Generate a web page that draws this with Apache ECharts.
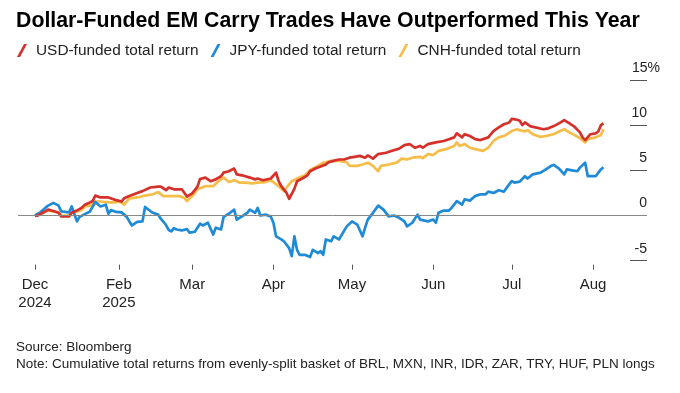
<!DOCTYPE html>
<html><head><meta charset="utf-8">
<script src="https://cdn.jsdelivr.net/npm/echarts@6/dist/echarts.min.js"></script>
<style>html,body{margin:0;padding:0;background:#fff}#c{width:680px;height:393px}</style>
</head><body><div id="c"></div>
<script>
const titleText = 'Dollar-Funded EM Carry Trades Have Outperformed This Year';
const sourceText = 'Source: Bloomberg';
const noteText = 'Note: Cumulative total returns from evenly-split basket of BRL, MXN, INR, IDR, ZAR, TRY, HUF, PLN longs';
const seriesNames = ['USD-funded total return', 'JPY-funded total return', 'CNH-funded total return'];

const xTickDates = ['2024-12-31','2025-02-01','2025-03-01','2025-04-01','2025-05-01','2025-06-01','2025-07-01','2025-08-01'];
const xTickLabels = ['Dec\n2024','Feb\n2025','Mar','Apr','May','Jun','Jul','Aug'];
const yTicks = [-5, 0, 5, 10, 15];

const usdDates = ['2024-12-31','2025-01-01','2025-01-03','2025-01-05','2025-01-07','2025-01-09','2025-01-10','2025-01-13','2025-01-14','2025-01-16','2025-01-18','2025-01-19','2025-01-21','2025-01-22','2025-01-23','2025-01-25','2025-01-28','2025-01-31','2025-02-02','2025-02-03','2025-02-05','2025-02-08','2025-02-10','2025-02-13','2025-02-16','2025-02-17','2025-02-19','2025-02-20','2025-02-22','2025-02-25','2025-02-27','2025-03-01','2025-03-03','2025-03-04','2025-03-06','2025-03-08','2025-03-10','2025-03-12','2025-03-13','2025-03-15','2025-03-17','2025-03-18','2025-03-20','2025-03-23','2025-03-25','2025-03-26','2025-03-28','2025-03-31','2025-04-02','2025-04-03','2025-04-04','2025-04-06','2025-04-07','2025-04-09','2025-04-10','2025-04-12','2025-04-14','2025-04-15','2025-04-17','2025-04-20','2025-04-21','2025-04-22','2025-04-24','2025-04-26','2025-04-28','2025-04-30','2025-05-02','2025-05-04','2025-05-06','2025-05-07','2025-05-09','2025-05-11','2025-05-14','2025-05-16','2025-05-19','2025-05-21','2025-05-23','2025-05-25','2025-05-27','2025-05-28','2025-05-30','2025-06-02','2025-06-05','2025-06-07','2025-06-09','2025-06-10','2025-06-12','2025-06-13','2025-06-15','2025-06-17','2025-06-19','2025-06-22','2025-06-24','2025-06-26','2025-06-28','2025-06-30','2025-07-01','2025-07-03','2025-07-04','2025-07-05','2025-07-06','2025-07-08','2025-07-10','2025-07-13','2025-07-15','2025-07-17','2025-07-19','2025-07-21','2025-07-23','2025-07-25','2025-07-27','2025-07-28','2025-07-29','2025-07-31','2025-08-02','2025-08-03','2025-08-04','2025-08-05'];
const usdValues = [0.0,0.0,0.3,0.65,0.5,0.3,-0.1,-0.1,0.3,0.55,0.9,1.2,1.45,1.6,2.2,2.0,2.0,1.7,1.55,1.9,2.15,2.5,2.7,3.1,3.2,3.2,2.8,3.1,2.9,2.9,2.1,2.45,3.2,4.05,4.2,3.8,4.0,4.35,4.75,4.9,5.2,4.55,4.45,4.2,4.0,4.1,3.9,4.1,4.75,3.8,3.25,2.5,1.85,2.95,3.8,4.1,4.45,4.9,5.2,5.55,5.65,5.9,6.05,6.2,6.2,6.4,6.5,6.6,6.4,6.65,6.3,6.8,6.95,7.15,7.4,7.8,7.9,7.5,7.7,7.5,7.9,8.1,8.25,8.45,8.65,9.1,8.65,9.0,8.8,8.45,8.35,8.65,9.35,9.75,10.1,10.3,10.7,10.6,10.5,10.0,10.3,9.9,9.75,9.55,9.65,9.9,10.2,10.55,10.2,9.8,9.2,8.65,8.35,9.0,9.1,9.3,10.0,10.2];

const jpyDates = ['2024-12-31','2025-01-02','2025-01-05','2025-01-07','2025-01-09','2025-01-10','2025-01-13','2025-01-14','2025-01-16','2025-01-17','2025-01-19','2025-01-21','2025-01-23','2025-01-25','2025-01-27','2025-01-28','2025-01-29','2025-01-31','2025-02-02','2025-02-04','2025-02-05','2025-02-06','2025-02-08','2025-02-10','2025-02-11','2025-02-13','2025-02-14','2025-02-16','2025-02-17','2025-02-19','2025-02-20','2025-02-21','2025-02-22','2025-02-23','2025-02-25','2025-02-27','2025-02-28','2025-03-02','2025-03-04','2025-03-05','2025-03-07','2025-03-09','2025-03-10','2025-03-12','2025-03-13','2025-03-15','2025-03-17','2025-03-18','2025-03-20','2025-03-22','2025-03-23','2025-03-25','2025-03-26','2025-03-27','2025-03-29','2025-03-31','2025-04-01','2025-04-02','2025-04-04','2025-04-05','2025-04-07','2025-04-08','2025-04-09','2025-04-10','2025-04-11','2025-04-13','2025-04-15','2025-04-16','2025-04-18','2025-04-19','2025-04-20','2025-04-21','2025-04-23','2025-04-24','2025-04-26','2025-04-29','2025-05-01','2025-05-03','2025-05-05','2025-05-06','2025-05-07','2025-05-09','2025-05-11','2025-05-13','2025-05-15','2025-05-17','2025-05-19','2025-05-21','2025-05-22','2025-05-24','2025-05-26','2025-05-27','2025-05-30','2025-06-01','2025-06-02','2025-06-03','2025-06-05','2025-06-07','2025-06-08','2025-06-10','2025-06-12','2025-06-13','2025-06-15','2025-06-17','2025-06-19','2025-06-21','2025-06-22','2025-06-24','2025-06-26','2025-06-28','2025-06-30','2025-07-01','2025-07-02','2025-07-04','2025-07-06','2025-07-07','2025-07-09','2025-07-12','2025-07-14','2025-07-16','2025-07-17','2025-07-19','2025-07-21','2025-07-22','2025-07-24','2025-07-26','2025-07-27','2025-07-29','2025-07-30','2025-08-02','2025-08-04','2025-08-05'];
const jpyValues = [0.0,0.35,1.1,1.4,1.1,0.45,0.35,1.0,-0.65,-0.15,0.15,0.45,1.5,1.0,1.2,0.2,0.6,0.4,0.35,-0.15,-0.65,-1.1,-0.7,-0.65,0.95,0.5,0.3,0.1,-0.35,-1.05,-1.6,-1.75,-1.4,-1.55,-1.65,-1.5,-1.9,-1.8,-0.9,-1.1,-0.8,-2.1,-1.35,-1.55,-0.15,0.2,0.65,-0.45,-0.1,0.3,0.65,0.3,0.85,0.0,0.1,-0.1,-0.8,-2.3,-2.65,-2.85,-3.6,-4.5,-2.3,-3.8,-4.35,-4.35,-4.6,-3.8,-4.15,-3.95,-4.35,-2.65,-2.85,-2.3,-2.65,-1.2,-0.65,-1.0,-2.3,-1.35,-0.45,0.3,1.1,0.65,-0.1,0.0,-0.25,-0.65,-1.2,-0.8,0.1,-0.45,-0.65,-0.45,-0.8,0.3,0.55,0.55,0.85,1.6,1.2,1.8,1.65,2.15,2.35,2.35,2.65,2.5,2.8,2.65,3.45,3.8,3.65,3.75,4.35,4.1,4.55,4.75,5.1,5.5,5.6,5.2,4.55,5.1,5.0,4.9,5.3,5.85,4.35,4.35,5.1,5.35];

const cnhDates = ['2024-12-31','2025-01-01','2025-01-03','2025-01-05','2025-01-07','2025-01-09','2025-01-10','2025-01-13','2025-01-14','2025-01-16','2025-01-18','2025-01-19','2025-01-21','2025-01-23','2025-01-25','2025-01-28','2025-01-31','2025-02-01','2025-02-03','2025-02-05','2025-02-08','2025-02-11','2025-02-14','2025-02-16','2025-02-18','2025-02-21','2025-02-24','2025-02-26','2025-02-27','2025-03-01','2025-03-03','2025-03-06','2025-03-09','2025-03-11','2025-03-13','2025-03-15','2025-03-17','2025-03-19','2025-03-21','2025-03-24','2025-03-26','2025-03-29','2025-03-31','2025-04-03','2025-04-05','2025-04-06','2025-04-08','2025-04-10','2025-04-13','2025-04-15','2025-04-18','2025-04-20','2025-04-21','2025-04-23','2025-04-26','2025-04-29','2025-04-30','2025-05-03','2025-05-05','2025-05-07','2025-05-09','2025-05-11','2025-05-12','2025-05-15','2025-05-18','2025-05-20','2025-05-22','2025-05-24','2025-05-27','2025-05-28','2025-05-30','2025-06-01','2025-06-03','2025-06-06','2025-06-09','2025-06-10','2025-06-11','2025-06-13','2025-06-15','2025-06-17','2025-06-20','2025-06-22','2025-06-24','2025-06-26','2025-06-28','2025-07-01','2025-07-03','2025-07-04','2025-07-06','2025-07-07','2025-07-09','2025-07-12','2025-07-14','2025-07-17','2025-07-19','2025-07-21','2025-07-23','2025-07-25','2025-07-27','2025-07-29','2025-07-30','2025-08-02','2025-08-04','2025-08-05'];
const cnhValues = [0.0,0.05,0.3,0.55,0.45,0.3,0.0,0.0,0.3,0.45,0.65,1.0,1.1,1.55,1.55,1.45,1.45,1.6,1.2,1.9,2.0,2.2,2.35,2.6,2.15,2.15,2.15,1.95,1.6,2.15,2.9,3.25,3.25,3.8,4.2,3.7,3.9,3.65,3.65,3.55,3.65,3.7,3.9,3.25,2.7,3.1,3.8,4.1,4.45,5.05,5.5,5.85,5.9,6.05,6.05,5.9,5.5,5.5,5.65,5.85,5.5,4.9,5.5,5.65,5.85,6.3,6.2,6.4,6.5,6.35,6.8,6.7,7.15,7.35,7.7,8.1,7.7,7.9,7.5,7.35,7.15,7.5,8.25,8.65,8.8,9.35,9.55,9.45,9.3,9.45,9.0,8.7,8.8,9.0,9.3,9.55,9.2,8.9,8.55,8.1,8.45,8.65,8.9,9.55];

const colors = {usd: '#d6302a', jpy: '#1f8ad6', cnh: '#f6bd48'};
const FONT = "'Liberation Sans', Arial, Helvetica, sans-serif";
// x is measured in days since the first date
function dayNum(s) { const p = s.split('-').map(Number); return Math.round(Date.UTC(p[0], p[1] - 1, p[2]) / 864e5); }
const originDay = dayNum(xTickDates[0]);
function dx(s) { return dayNum(s) - originDay; }
function pairs(d, v) { return d.map((x, i) => [dx(x), v[i]]); }
const tickX = xTickDates.map(dx);
const labelMap = {}; tickX.forEach((t, i) => { labelMap[t] = xTickLabels[i]; });
const slash = 'path://M7,0 L10,0 L3,13 L0,13 Z';

const chart = echarts.init(document.getElementById('c'), null, {renderer: 'canvas'});
chart.setOption({
  animation: false,
  backgroundColor: '#fff',
  textStyle: {fontFamily: FONT},
  title: [
    {text: titleText, left: 11, top: 6, textStyle: {fontFamily: FONT, fontSize: 21.3, fontWeight: 'bold', color: '#000'}},
    {text: sourceText + '\n' + noteText, left: 11, top: 334, textStyle: {fontFamily: FONT, fontSize: 13.5, fontWeight: 'normal', color: '#222', lineHeight: 17}}
  ],
  legend: {
    left: 12, top: 38, itemWidth: 10, itemHeight: 13, itemGap: 12,
    data: [
      {name: seriesNames[0], icon: slash},
      {name: seriesNames[1], icon: slash},
      {name: seriesNames[2], icon: slash}
    ],
    textStyle: {fontFamily: FONT, fontSize: 15.4, color: '#222', padding: [0, 0, 0, 4]}
  },
  grid: {left: 18, right: 33, top: 80, bottom: 132.3, containLabel: false},
  xAxis: {
    type: 'value',
    min: -6.5,
    max: 233.6,
    offset: 4,
    splitLine: {show: false},
    axisLine: {show: false, onZero: false},
    axisTick: {show: true, customValues: tickX, length: 5, lineStyle: {color: '#555', width: 1}},
    axisLabel: {customValues: tickX, formatter: v => labelMap[v] || '', fontFamily: FONT, fontSize: 15, color: '#222', lineHeight: 18, margin: 11, hideOverlap: false}
  },
  yAxis: {
    type: 'value', position: 'right', min: yTicks[0], max: yTicks[yTicks.length - 1], interval: 5,
    splitLine: {show: false},
    axisLine: {show: false, onZero: false},
    axisTick: {show: true, inside: true, length: 17, lineStyle: {color: '#555', width: 1}},
    axisLabel: {
      inside: true, margin: -13, align: 'right', verticalAlign: 'bottom', padding: [0, 0, 5, 0],
      fontFamily: FONT, fontSize: 14, color: '#222',
      formatter: v => v === 15 ? '15%' : '{n|' + v + '}',
      rich: {n: {padding: [0, 13, 0, 0], fontFamily: FONT, fontSize: 14, color: '#222'}}
    }
  },
  series: [
    {name: seriesNames[2], type: 'line', data: pairs(cnhDates, cnhValues), showSymbol: false, symbol: 'none', color: colors.cnh,
     lineStyle: {width: 2.7, color: colors.cnh, join: 'round'},
     markLine: {silent: true, symbol: 'none', label: {show: false}, lineStyle: {color: '#888', width: 1, type: 'solid'}, data: [{yAxis: 0}]}},
    {name: seriesNames[1], type: 'line', data: pairs(jpyDates, jpyValues), showSymbol: false, symbol: 'none', color: colors.jpy,
     lineStyle: {width: 2.7, color: colors.jpy, join: 'round'}},
    {name: seriesNames[0], type: 'line', data: pairs(usdDates, usdValues), showSymbol: false, symbol: 'none', color: colors.usd,
     lineStyle: {width: 2.7, color: colors.usd, join: 'round'}}
  ]
});
</script></body></html>
